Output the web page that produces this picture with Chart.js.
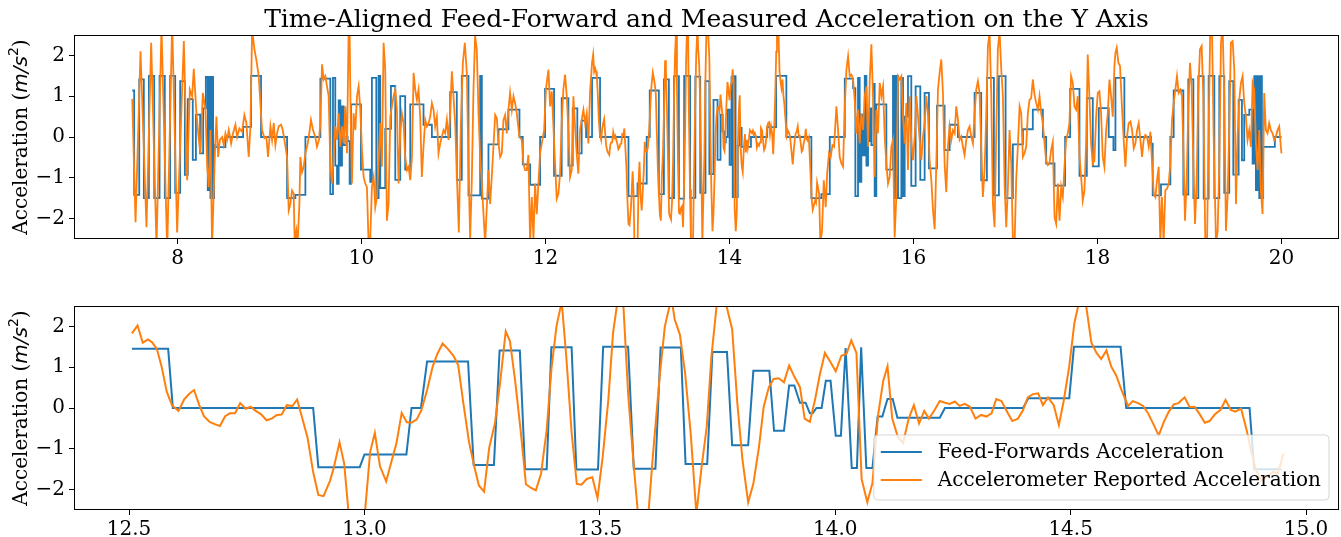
<!DOCTYPE html>
<html>
<head>
<meta charset="utf-8">
<script src="https://cdn.jsdelivr.net/npm/chart.js@4.4.0/dist/chart.umd.min.js"></script>
<style>
  body { margin: 0; background: #fff; }
  #wrap { position: relative; width: 1341px; height: 537px; }
  canvas { position: absolute; left: 0; }
</style>
</head>
<body>
<div id="wrap">
  <canvas id="topChart" width="1341" height="270" style="top:0"></canvas>
  <canvas id="zoomChart" width="1341" height="267" style="top:270px"></canvas>
</div>
<script>
// ---- data: [time (s), acceleration (m/s^2)] ----
// feed-forward command, held values (7.5 - 12.5 s)
const ffEarly = [
  [7.508,1.14],[7.529,-1.42],[7.584,1.41],[7.634,-1.5],[7.689,1.5],[7.747,-1.5],[7.805,1.5],[7.862,-1.5],
  [7.92,1.5],[7.975,-1.37],[8.029,1.37],[8.08,-0.93],[8.112,0.93],[8.166,-0.56],[8.2,0.55],[8.246,-0.4],
  [8.279,0.7],[8.308,1.47],[8.329,-1.3],[8.344,1.47],[8.358,-1.5],[8.373,1.47],[8.387,-1.5],[8.398,-0.2],
  [8.413,-0.25],[8.521,0],[8.713,0.25],[8.8,1.5],[8.908,0],
  [9.191,-1.5],[9.281,-1.42],[9.39,0],[9.553,1.43],[9.661,-1.4],[9.69,1.45],[9.715,-0.7],[9.734,-1.15],
  [9.752,0.9],[9.77,-0.7],[9.788,0.75],[9.806,-0.2],[9.835,0],[9.849,-0.1],[9.871,-1.15],[9.886,0.8],
  [9.994,-0.8],[10.095,-1.1],[10.113,1.45],[10.161,-1.5],[10.186,1.5],[10.204,-1.25],[10.258,0.2],[10.32,1.25],
  [10.367,-1.05],[10.421,1.0],[10.475,-0.8],[10.53,0.8],[10.674,0.3],[10.765,0],[10.964,1.1],[11.036,-1.05],
  [11.09,1.5],[11.163,-1.43],[11.29,1.5],
  [11.308,-1.51],[11.38,-0.18],[11.489,0.19],[11.597,0.67],[11.717,0],[11.753,-0.67],[11.833,-1.17],[11.941,0],
  [11.995,1.18],[12.093,-0.95],[12.176,0.95],[12.249,-0.7],[12.296,0.7],[12.346,-0.4],[12.393,0.4],[12.441,0]
];
// feed-forward command, zoomed window (12.5 - 14.95 s)
const ffZoom = [
  [12.506,1.45],[12.583,1.45],[12.593,0],[12.891,0],[12.902,-1.45],[12.99,-1.45],[13.0,-1.14],[13.089,-1.14],
  [13.1,0],[13.12,0],[13.133,1.14],[13.22,1.14],[13.232,-1.4],[13.275,-1.4],[13.287,1.41],[13.33,1.41],
  [13.341,-1.5],[13.387,-1.5],[13.397,1.49],[13.44,1.49],[13.45,-1.51],[13.496,-1.51],[13.507,1.5],[13.56,1.5],
  [13.572,-1.49],[13.618,-1.49],[13.629,1.48],[13.672,1.48],[13.682,-1.37],[13.728,-1.37],[13.739,1.37],[13.77,1.37],
  [13.781,-0.91],[13.815,-0.91],[13.826,0.91],[13.86,0.91],[13.87,-0.56],[13.891,-0.56],[13.902,0.55],[13.913,0.55],
  [13.925,0.13],[13.937,0.13],[13.946,-0.13],[13.952,-0.13],[13.96,0],[13.971,0],[13.98,0.67],[13.99,0.67],
  [14.001,-0.68],[14.012,-0.68],[14.022,1.47],[14.035,-1.47],[14.046,-1.47],[14.055,1.49],[14.066,-1.47],[14.079,-1.47],
  [14.09,-0.21],[14.1,-0.21],[14.111,0.22],[14.122,0.22],[14.132,-0.24],[14.222,-0.24],[14.233,0],[14.399,0],
  [14.41,0.24],[14.497,0.24],[14.507,1.5],[14.606,1.5],[14.618,0],[14.88,0],[14.89,-1.5],[14.948,-1.5]
];
// feed-forward command, held values (14.95 - 20 s)
const ffLate = [
  [14.999,-1.4],[15.09,0],[15.253,1.43],[15.343,1.2],[15.368,-1.45],[15.397,1.45],[15.415,-1.1],[15.433,0.55],
  [15.452,-0.45],[15.47,1.5],[15.488,-0.7],[15.506,-0.1],[15.524,0.7],[15.542,-0.2],[15.567,1.3],[15.578,-1.45],
  [15.596,0.8],[15.705,-0.8],[15.777,1.5],[15.795,-1.5],[15.813,1.5],[15.832,-1.5],[15.868,1.45],[15.886,-1.45],
  [15.904,0.5],[15.94,1.49],[15.976,-1.2],[16.023,1.24],[16.074,-1.05],[16.121,1.08],[16.168,-0.77],[16.255,0.77],
  [16.338,-0.32],[16.393,0.3],[16.483,0],[16.664,1.08],[16.736,-1.06],[16.798,1.45],[16.874,-1.43],[16.928,1.49],
  [17.001,-1.5],[17.08,-0.18],[17.189,0.19],[17.297,0.67],[17.406,0],[17.442,-0.65],[17.533,-1.19],[17.648,0],
  [17.703,1.18],[17.804,-0.95],[17.884,0.95],[17.949,-0.72],[18.014,0.71],[18.122,0],[18.173,-0.32],[18.195,1.45],
  [18.292,0],[18.582,-0.16],[18.6,-1.43],[18.69,-1.16],[18.792,0],[18.828,1.14],[18.933,-1.41],[18.987,1.41],
  [19.042,-1.5],[19.096,1.49],[19.154,-1.51],[19.208,1.5],[19.27,-1.5],[19.324,1.49],[19.378,-1.37],[19.432,1.37],
  [19.476,-0.92],[19.534,0.91],[19.57,-0.57],[19.595,0.54],[19.65,0.67],[19.686,-0.65],[19.704,1.49],[19.722,-1.3],
  [19.74,1.49],[19.758,-1.5],[19.776,1.49],[19.787,-1.5],[19.801,-0.24],[19.928,0],[20.0,0]
];

// accelerometer, 7.5 - 12.5 s
const accEarly = [
  [7.508,0.93],[7.544,-2.09],[7.598,2.1],[7.663,-2.21],[7.714,2.31],[7.772,-2.7],[7.826,2.7],[7.888,-2.8],
  [7.942,2.8],[7.996,-2.34],[8.069,2.35],[8.105,-1.06],[8.134,1.16],[8.159,1.0],[8.177,1.67],[8.206,0.58],
  [8.232,-0.07],[8.25,-0.4],[8.275,1.08],[8.304,0.67],[8.322,-0.69],[8.34,-1.23],[8.358,0.17],[8.376,-2.7],
  [8.405,-0.49],[8.423,0.5],[8.442,-0.49],[8.46,-0.07],[8.485,0],[8.503,-0.2],[8.521,0.09],[8.539,-0.07],
  [8.557,0.17],[8.583,-0.16],[8.604,0.09],[8.63,0.3],[8.648,0],[8.673,0.21],[8.702,0.13],[8.727,0.54],
  [8.749,0.34],[8.774,-0.49],[8.793,0.26],[8.811,2.64],[8.836,2.15],[8.858,1.88],[8.883,1.49],[8.901,0.83],
  [8.919,0.17],[8.945,-0.03],[8.966,0],[8.984,-0.49],
  [9.01,0.26],[9.028,-0.07],[9.046,0.34],[9.064,-0.2],[9.082,0.09],[9.1,0.26],[9.126,0.3],[9.144,0.17],
  [9.162,-0.07],[9.191,-0.49],[9.209,-1.8],[9.227,-1.64],[9.245,-1.31],[9.263,-1.39],[9.274,-2.6],[9.292,-2.3],
  [9.306,-2.6],[9.325,-1.64],[9.335,-0.49],[9.354,-0.86],[9.372,-0.73],[9.39,-0.4],[9.415,-0.16],[9.437,0.17],
  [9.451,0.42],[9.473,0.17],[9.498,0],[9.516,-0.24],[9.538,-0.07],[9.553,0.34],[9.571,1.78],[9.589,1.41],
  [9.607,1.49],[9.625,1.24],[9.643,1.0],[9.661,-0.65],[9.679,-1.14],[9.697,-0.49],[9.715,0.26],[9.734,-0.07],
  [9.752,0.58],[9.77,-0.24],[9.788,0.26],[9.806,-0.16],[9.824,0.75],[9.842,-0.4],[9.86,2.6],[9.871,2.5],
  [9.882,0.58],[9.896,-1.14],[9.914,0.58],[9.933,0.17],[9.951,1.0],[9.969,1.24],[9.987,0.67],[10.005,-0.32],
  [10.023,-0.98],[10.041,-1.14],[10.059,-1.23],[10.077,-2.6],[10.095,-2.5],[10.113,-1.23],[10.132,-0.98],[10.15,-1.72],
  [10.168,-1.47],[10.186,-0.57],[10.204,0.34],[10.222,-0.73],[10.24,2.31],[10.258,1.66],[10.276,-2.05],[10.294,-1.64],
  [10.313,0.5],[10.331,0.75],[10.349,1.0],[10.367,1.16],[10.385,0.67],[10.403,-1.14],[10.421,0.09],[10.439,0.58],
  [10.457,0.34],[10.475,-0.49],[10.494,-0.81],[10.512,-0.73],[10.53,-1.06],[10.548,-0.49],[10.566,1.57],[10.584,1.16],
  [10.602,0.91],[10.62,1.16],[10.638,0.5],[10.656,-0.98],[10.674,-0.24],[10.693,0.42],[10.711,0.26],[10.729,0.34],
  [10.747,0.5],[10.765,0.83],[10.783,0.67],[10.801,0.26],[10.819,0.5],[10.837,-0.4],[10.855,-0.16],[10.873,0],
  [10.892,0.17],[10.91,0.09],[10.928,0.42],[10.946,-0.07],[10.964,0.58],[10.982,1.61],[11.0,1.0],[11.018,0.34],
  [11.036,-0.9],[11.058,-2.34],[11.08,0.34],[11.102,1.82],[11.123,2.31],[11.145,1.57],[11.163,-0.65],[11.181,-2.5],
  [11.199,-1.06],[11.217,1.16],[11.235,2.48],[11.253,2.15],[11.272,0.58],
  [11.29,-0.49],[11.308,-1.14],[11.326,-1.89],[11.344,-2.6],[11.362,-1.72],[11.38,-0.81],[11.398,-1.64],[11.416,-0.98],
  [11.434,-0.24],[11.453,0.54],[11.471,0.46],[11.489,-0.16],[11.507,-0.49],[11.525,-0.4],[11.543,0.42],[11.561,0.54],
  [11.579,0.09],[11.597,0.67],[11.615,1.08],[11.634,0.67],[11.652,1.0],[11.67,0.83],[11.688,0.58],[11.717,0],
  [11.742,-0.07],[11.76,-0.65],[11.778,-0.81],[11.796,-0.81],[11.814,-0.44],[11.833,-2.6],[11.851,-1.47],[11.869,-2.5],
  [11.887,-1.14],[11.905,-1.89],[11.923,-1.14],[11.941,-0.4],[11.959,-0.16],[11.985,0.17],[12.006,1.2],[12.032,1.65],
  [12.05,0.75],[12.068,1.12],[12.086,0.26],[12.104,-0.65],[12.122,-1.51],[12.14,-1.39],[12.158,-0.9],[12.176,0.34],
  [12.194,1.16],[12.213,1.53],[12.231,1.0],[12.249,0.17],[12.267,-0.98],[12.285,-0.81],[12.303,1.0],[12.321,0.26],
  [12.339,-0.4],[12.357,-0.9],[12.375,0.17],[12.393,0.42],[12.412,0.67],[12.43,0.34],[12.448,0.58],[12.466,-0.16],
  [12.484,1.08]
];
// accelerometer, zoomed window 12.5 - 14.95 s
const accZoom = [
  [12.506,1.83],[12.518,2.02],[12.529,1.6],[12.54,1.68],[12.549,1.61],[12.559,1.45],[12.569,1.02],[12.58,0.4],
  [12.591,0.07],[12.605,-0.07],[12.617,0.21],[12.628,0.35],[12.638,0.44],[12.649,0.07],[12.659,-0.2],[12.671,-0.34],
  [12.683,-0.4],[12.693,-0.44],[12.704,-0.2],[12.714,-0.13],[12.725,-0.13],[12.736,0.12],[12.748,-0.02],[12.758,0.03],
  [12.769,-0.07],[12.78,-0.15],[12.792,-0.3],[12.803,-0.26],[12.814,-0.17],[12.824,-0.16],[12.835,0.07],[12.847,0.05],
  [12.857,0.21],[12.868,-0.26],[12.879,-0.72],[12.891,-1.57],[12.902,-2.13],[12.913,-2.16],[12.927,-1.78],[12.935,-1.45],
  [12.947,-0.84],[12.957,-1.37],[12.968,-2.8],[12.978,-3.2],[12.989,-3.1],[13.0,-2.7],[13.012,-1.08],[13.022,-0.61],
  [13.033,-1.43],[13.046,-1.8],[13.058,-1.28],[13.068,-0.86],[13.079,-0.12],[13.09,-0.35],[13.1,-0.36],[13.111,-0.28],
  [13.121,-0.05],[13.133,0.44],[13.145,1.02],[13.155,1.33],[13.166,1.58],[13.177,1.45],[13.189,1.28],[13.199,1.05],
  [13.21,0.12],[13.222,-0.83],[13.233,-1.42],[13.243,-1.9],[13.254,-2.05],[13.265,-0.97],[13.277,-0.38],[13.288,0.61],
  [13.3,1.88],[13.309,1.64],[13.32,0.67],[13.332,-0.58],[13.343,-1.87],[13.354,-1.96],[13.364,-2.02],[13.375,-1.61],
  [13.387,-0.54],[13.397,0.94],[13.408,2.02],[13.419,2.6],[13.429,1.2],[13.44,-0.6],[13.451,-1.86],[13.461,-1.88],
  [13.472,-1.74],[13.484,-1.7],[13.495,-2.21],[13.506,-1.2],[13.518,0.2],[13.528,1.84],[13.541,2.9],[13.55,2.5],
  [13.56,0.36],[13.571,-1.28],[13.581,-2.6],[13.592,-3.0],[13.603,-2.6],[13.613,-1.12],[13.627,0.77],[13.638,2.0],
  [13.652,2.7],[13.659,2.17],[13.67,1.8],[13.681,0.86],[13.693,-0.63],[13.705,-2.6],[13.716,-1.45],[13.727,-0.46],
  [13.737,1.27],[13.748,2.5],[13.758,2.8],[13.769,2.5],[13.781,1.93],[13.792,0.12],[13.803,-1.28],[13.815,-2.31],
  [13.826,-1.86],[13.838,-0.95],[13.848,0.03],[13.859,0.51],[13.869,0.71],[13.88,0.73],[13.891,0.63],[13.902,1.04],
  [13.913,0.77],[13.925,0.51],[13.935,-0.26],[13.946,-0.34],[13.957,0.2],[13.967,0.81],[13.978,1.35],[13.99,1.12],
  [14.001,0.9],[14.013,1.28],[14.024,1.33],[14.034,1.66],[14.045,1.35],[14.056,-1.74],[14.068,-2.31],[14.079,-1.84],
  [14.091,-0.17],[14.102,0.67],[14.111,1.02],[14.121,-0.26],[14.133,-0.71],[14.144,-0.86],[14.156,-0.26],[14.167,0.07],
  [14.178,-0.38],[14.189,-0.07],[14.199,-0.26],[14.211,-0.05],[14.222,0.17],[14.233,0.13],[14.243,0.1],[14.254,0.16],
  [14.264,0.05],[14.275,0.1],[14.286,0.03],[14.298,-0.26],[14.31,-0.17],[14.321,-0.21],[14.332,-0.13],[14.342,0.22],
  [14.353,0.17],[14.365,-0.09],[14.376,-0.32],[14.388,-0.26],[14.399,-0.05],[14.409,0.26],[14.42,0.34],[14.431,0.36],
  [14.441,0.07],[14.452,0.26],[14.464,0.07],[14.475,-0.42],[14.485,0.16],[14.497,1.02],[14.508,2.09],[14.516,2.5],
  [14.526,2.75],[14.533,2.5],[14.544,1.6],[14.555,1.35],[14.565,1.2],[14.576,1.41],[14.586,1.02],[14.597,0.79],
  [14.608,0.44],[14.622,0.05],[14.632,0.17],[14.643,0.12],[14.654,0.05],[14.664,-0.12],[14.676,-0.4],[14.687,-0.67],
  [14.698,-0.34],[14.708,-0.1],[14.719,0.09],[14.729,0.12],[14.742,0.26],[14.753,0.02],[14.763,0.03],[14.774,-0.15],
  [14.785,-0.36],[14.795,-0.32],[14.806,-0.16],[14.818,-0.05],[14.829,0.2],[14.84,-0.05],[14.85,-0.09],[14.862,-0.01],
  [14.873,-0.5],[14.884,-1.08],[14.894,-1.53],[14.905,-1.78],[14.918,-1.67],[14.93,-1.56],[14.94,-1.61],[14.952,-1.12]
];
// accelerometer, 14.95 - 20 s
const accLate = [
  [14.974,-1.39],[14.988,-2.6],[15.006,-2.29],[15.025,-1.06],[15.046,-1.72],[15.061,-0.9],[15.082,-0.4],[15.1,-0.49],
  [15.119,-0.2],[15.137,-0.24],[15.162,0.75],[15.18,0.17],[15.198,-0.49],[15.216,-0.65],[15.234,-0.73],[15.253,0.75],
  [15.271,1.65],[15.289,1.98],[15.307,1.49],[15.325,1.53],[15.343,1.41],[15.361,0.91],[15.379,0.09],[15.397,0.67],
  [15.415,-0.16],[15.433,0.58],[15.452,0.17],[15.47,1.0],[15.488,1.24],[15.506,-0.24],[15.524,1.37],[15.542,2.27],
  [15.56,1.0],[15.578,-0.98],[15.596,0.67],[15.614,0.09],[15.633,1.33],[15.651,1.0],[15.669,1.24],[15.687,0.01],
  [15.705,-0.65],[15.723,-1.14],[15.741,-0.98],[15.759,-0.24],[15.777,-0.07],[15.795,-2.46],[15.813,-1.47],[15.832,1.49],
  [15.85,1.41],[15.868,1.49],[15.886,0.5],[15.904,-0.16],[15.922,0.83],[15.94,-0.81],[15.958,1.0],[15.976,-0.07],
  [15.994,-0.57],[16.013,0.01],[16.031,1.0],[16.049,0.5],[16.067,-0.07],[16.085,-0.57],[16.103,0.01],[16.121,0.34],
  [16.139,1.0],[16.157,0.58],[16.175,-0.57],[16.194,-1.06],[16.212,-1.8],[16.23,-2.26],[16.248,-0.65],[16.266,1.16],
  [16.284,1.57],[16.302,1.9],[16.32,1.08],[16.338,-0.65],[16.356,-1.35],[16.374,-0.24],[16.393,0.26],[16.411,-0.07],
  [16.429,0.17],[16.447,0.09],[16.465,0.75],[16.483,0.42],[16.501,-0.07],[16.519,0.01],[16.537,-0.24],[16.555,-0.44],
  [16.574,-0.07],[16.592,0.17],[16.61,0.26],[16.628,0.01],[16.646,-0.16],[16.664,0.58],[16.682,1.16],[16.7,1.37],
  [16.718,1.08],[16.736,-0.24],[16.754,-1.47],[16.773,-0.81],[16.791,0.58],[16.809,2.23],[16.827,2.56],[16.845,1.08],
  [16.863,-1.64],[16.881,-2.21],[16.899,0.01],[16.917,2.15],[16.935,2.6],[16.954,1.65],[16.972,1.0],[16.99,-1.14],
  [17.008,-2.21],[17.026,-1.23],[17.044,0.17],[17.062,-0.65],[17.08,-2.5],[17.098,-2.7],[17.116,-1.06],[17.134,-0.24],
  [17.153,0.75],[17.171,0.58],[17.189,-0.49],[17.207,-0.4],[17.225,-0.24],[17.243,0.58],[17.261,0.91],[17.279,0.95],
  [17.297,1.41],[17.315,1.04],[17.334,0.83],[17.352,0.67],[17.37,1.0],[17.388,0.58],[17.406,0.34],[17.424,-0.16],
  [17.442,-0.57],[17.46,-0.69],[17.478,-0.65],[17.496,-0.32],[17.514,-0.12],[17.533,-1.97],[17.551,-2.13],[17.569,-1.14],
  [17.587,-2.05],[17.605,-1.23],[17.623,-1.47],[17.641,-0.73],[17.659,-0.07],[17.677,0.09],[17.695,0.34],[17.713,1.49],
  [17.732,1.32],[17.75,0.75],[17.768,0.67],[17.786,1.0],[17.804,-0.49],[17.822,-0.98],[17.84,-1.56],[17.858,-1.31],
  [17.876,-0.16],[17.894,2.02],[17.912,1.0],[17.93,-0.16],[17.949,-0.65],[17.967,-0.57],[17.985,0.5],[18.003,1.08],
  [18.021,1.12],[18.039,0.58],[18.057,-0.49],[18.075,-0.73],[18.094,0.17],[18.112,0.58],[18.13,1.41],[18.148,1.0],
  [18.166,0.5],[18.184,1.74],[18.195,2.07],[18.209,2.19],[18.227,1.82],[18.245,1.74],[18.267,0.67],[18.285,-0.07],
  [18.303,-0.73],[18.321,0.01],[18.339,0.34],[18.358,0.38],[18.376,0.17],[18.394,-0.28],[18.412,-0.16],[18.43,0.17],
  [18.448,0.34],[18.466,-0.07],[18.484,-0.49],[18.502,-0.07],[18.52,0.05],[18.538,0.01],[18.557,-0.24],[18.575,0.13],
  [18.593,-0.65],[18.611,-1.39],[18.629,-1.47],[18.647,-1.06],[18.665,-0.73],[18.683,-2.6],[18.701,-1.47],[18.719,-2.6],
  [18.737,-1.31],[18.756,-1.27],[18.774,-1.14],[18.792,-0.65],[18.81,0.42],[18.828,0.83],[18.846,1.16],[18.864,1.49],
  [18.882,1.08],[18.9,1.16],[18.918,1.0],[18.933,-0.24],[18.951,-2.05],[18.969,-1.06],[18.987,0.67],[19.005,1.82],
  [19.023,1.24],[19.042,-0.65],[19.06,-2.13],[19.078,-1.06],[19.096,1.16],[19.114,2.15],[19.132,2.23],[19.15,1.0],
  [19.172,-2.6],[19.19,-2.7],[19.208,0.17],[19.226,2.7],[19.244,2.7],[19.262,0.07],[19.288,-2.6],[19.306,-2.3],
  [19.324,-0.65],[19.342,2.31],[19.36,2.7],[19.378,1.0],[19.396,-2.3],[19.414,-1.47],[19.432,0.17],[19.45,2.31],
  [19.469,2.35],[19.487,1.65],[19.505,-1.64],[19.523,0.01],[19.541,0.91],[19.559,1.32],[19.577,1.49],[19.595,0.83],
  [19.613,0.5],[19.631,-0.07],[19.649,0.17],[19.668,-0.24],[19.686,1.32],[19.704,1.16],[19.722,-0.16],[19.74,-0.81],
  [19.758,0.17],[19.776,-1.31],[19.794,-1.89],[19.812,1.08],[19.83,0.17],[19.848,0.09],[19.866,0.34],[19.884,0.17],
  [19.903,0.09],[19.921,-0.07],[19.939,0.01],[19.957,0.17],[19.975,0.26],[19.993,-0.24],[20.0,-0.4]
];

const topXTicks = [8, 10, 12, 14, 16, 18, 20];
const zoomXTicks = [12.5, 13.0, 13.5, 14.0, 14.5, 15.0];
const yTicks = [-2, -1, 0, 1, 2];
const seriesNames = ["Feed-Forwards Acceleration", "Accelerometer Reported Acceleration"];
const titleText = "Time-Aligned Feed-Forward and Measured Acceleration on the Y Axis";

const BLUE = "#1f77b4";
const ORANGE = "#ff7f0e";
const SERIF = "'DejaVu Serif', serif";

const pts = arr => arr.map(([x, y]) => ({ x, y }));
const minus = v => (v < 0 ? "\u2212" + Math.abs(v) : String(v));

// frame, y label, optional title and legend, drawn like the matplotlib figure
const figureBits = {
  id: "figureBits",
  afterDraw(chart, args, opts) {
    const { ctx, chartArea: a } = chart;
    ctx.save();
    ctx.strokeStyle = "#000";
    ctx.lineWidth = 1;
    ctx.strokeRect(a.left + 0.5, a.top + 0.5, a.right - a.left - 1, a.bottom - a.top - 1);

    // y axis label with math part
    ctx.translate(22, (a.top + a.bottom) / 2);
    ctx.rotate(-Math.PI / 2);
    const parts = [
      { t: "Acceleration (", f: "20px " + SERIF, dy: 0 },
      { t: "m/s", f: "italic 20px 'DejaVu Sans'", dy: 0 },
      { t: "2", f: "14px 'DejaVu Sans'", dy: -8 },
      { t: ")", f: "20px " + SERIF, dy: 0 }
    ];
    let total = 0;
    parts.forEach(p => { ctx.font = p.f; p.w = ctx.measureText(p.t).width; total += p.w; });
    let x = -total / 2;
    ctx.fillStyle = "#000";
    ctx.textBaseline = "middle";
    parts.forEach(p => { ctx.font = p.f; ctx.fillText(p.t, x, p.dy); x += p.w; });
    ctx.restore();

    if (opts.title) {
      ctx.save();
      ctx.font = "25px " + SERIF;
      ctx.fillStyle = "#000";
      ctx.textAlign = "center";
      ctx.textBaseline = "alphabetic";
      ctx.fillText(opts.title, (a.left + a.right) / 2, 27);
      ctx.restore();
    }

    if (opts.legend) {
      ctx.save();
      ctx.font = "20px " + SERIF;
      const maxW = Math.max(...seriesNames.map(s => ctx.measureText(s).width));
      const w = 7 + 41 + 16 + maxW + 8, h = 65;
      const bx = a.right - 10 - w, by = a.bottom - 10 - h;
      ctx.beginPath();
      ctx.roundRect(bx, by, w, h, 4);
      ctx.fillStyle = "rgba(255,255,255,0.8)";
      ctx.fill();
      ctx.strokeStyle = "rgba(204,204,204,0.8)";
      ctx.lineWidth = 1;
      ctx.stroke();
      [BLUE, ORANGE].forEach((c, i) => {
        const yy = by + 17 + i * 28;
        ctx.strokeStyle = c;
        ctx.lineWidth = 2;
        ctx.beginPath();
        ctx.moveTo(bx + 7, yy);
        ctx.lineTo(bx + 48, yy);
        ctx.stroke();
        ctx.fillStyle = "#000";
        ctx.textBaseline = "middle";
        ctx.fillText(seriesNames[i], bx + 64, yy + 1);
      });
      ctx.restore();
    }
  }
};

function makeChart(id, cfg) {
  return new Chart(document.getElementById(id), {
    type: "line",
    data: {
      datasets: [
        {
          label: seriesNames[1],
          data: cfg.acc,
          borderColor: ORANGE,
          borderWidth: cfg.lw,
          pointRadius: 0,
          tension: 0,
          clip: 0
        },
        {
          label: seriesNames[0],
          data: cfg.ff,
          borderColor: BLUE,
          borderWidth: cfg.lw,
          pointRadius: 0,
          tension: 0,
          stepped: cfg.stepped,
          clip: 0
        }
      ]
    },
    options: {
      responsive: false,
      animation: false,
      devicePixelRatio: 1,
      layout: { padding: { top: cfg.top, right: 2, left: 0, bottom: 0 } },
      plugins: {
        legend: { display: false },
        tooltip: { enabled: false },
        figureBits: { title: cfg.title, legend: cfg.legend }
      },
      scales: {
        x: {
          type: "linear",
          min: cfg.xMin,
          max: cfg.xMax,
          afterBuildTicks: s => { s.ticks = cfg.xTicks.map(v => ({ value: v })); },
          afterFit: s => { s.height = cfg.xHeight; },
          ticks: {
            color: "#000",
            font: { family: SERIF, size: 20 },
            padding: 3,
            maxRotation: 0,
            autoSkip: false,
            callback: cfg.xFmt
          },
          grid: { drawOnChartArea: false, drawTicks: true, tickLength: 5, color: "#000" },
          border: { display: false }
        },
        y: {
          min: -2.5,
          max: 2.5,
          afterBuildTicks: s => { s.ticks = yTicks.map(v => ({ value: v })); },
          afterFit: s => { s.width = 74; },
          ticks: {
            color: "#000",
            font: { family: SERIF, size: 20 },
            padding: 4,
            callback: v => minus(v)
          },
          grid: { drawOnChartArea: false, drawTicks: true, tickLength: 5, color: "#000" },
          border: { display: false }
        }
      }
    },
    plugins: [figureBits]
  });
}

makeChart("topChart", {
  ff: pts([...ffEarly, ...ffZoom, ...ffLate]),
  acc: pts([...accEarly, ...accZoom, ...accLate]),
  stepped: true,
  lw: 1.8,
  top: 35,
  xHeight: 31,
  xMin: 6.875,
  xMax: 20.625,
  xTicks: topXTicks,
  xFmt: v => String(v),
  title: titleText,
  legend: false
});

makeChart("zoomChart", {
  ff: pts(ffZoom),
  acc: pts(accZoom),
  stepped: false,
  lw: 2,
  top: 36,
  xHeight: 27,
  xMin: 12.383,
  xMax: 15.07,
  xTicks: zoomXTicks,
  xFmt: v => v.toFixed(1),
  title: null,
  legend: true
});
</script>
</body>
</html>
